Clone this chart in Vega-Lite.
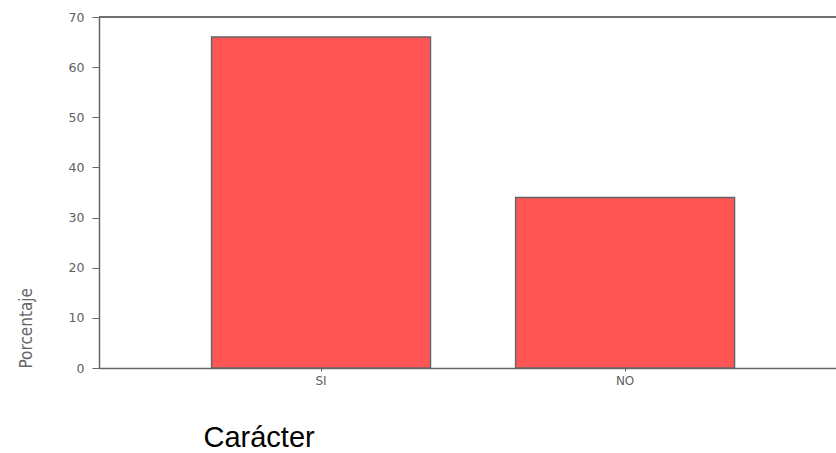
{
  "$schema": "https://vega.github.io/schema/vega-lite/v6.json",
  "width": 737,
  "height": 351,
  "padding": {"left": 99, "top": 17, "right": 0, "bottom": 85},
  "autosize": {"type": "none"},
  "background": "white",
  "config": {"view": {"stroke": null}},
  "data": {"values": [
    {"Caracter": "SI", "Porcentaje": 66},
    {"Caracter": "NO", "Porcentaje": 34}
  ]},
  "layer": [
    {
      "mark": {"type": "bar", "fill": "#FF5555", "stroke": "#666666", "strokeWidth": 1.5},
      "encoding": {
        "x": {
          "field": "Caracter", "type": "nominal", "sort": ["SI", "NO"],
          "scale": {"paddingInner": 0.28, "paddingOuter": 0.352, "align": 0.526},
          "axis": {
            "title": "Carácter", "labelAngle": 0, "labelFont": "DejaVu Sans", "labelFontSize": 12,
            "labelColor": "#606060", "labelPadding": 4, "tickSize": 3, "tickColor": "#666666",
            "domainColor": "#666666", "domainWidth": 1.5,
            "titleFont": "Liberation Sans", "titleFontSize": 29, "titleFontWeight": "normal",
            "titleColor": "#000000", "titleAnchor": "start", "titleAlign": "left",
            "titleX": 104, "titleY": 78, "titleBaseline": "alphabetic"
          }
        },
        "y": {
          "field": "Porcentaje", "type": "quantitative",
          "scale": {"domain": [0, 70], "nice": false},
          "axis": {
            "title": "Porcentaje", "values": [0, 10, 20, 30, 40, 50, 60, 70], "grid": false,
            "labelFont": "DejaVu Sans", "labelFontSize": 12.5, "labelColor": "#606060",
            "labelPadding": 8, "tickSize": 7, "tickColor": "#666666",
            "domainColor": "#666666", "domainWidth": 1.5,
            "titleFont": "DejaVu Sans Condensed, Liberation Sans, sans-serif", "titleFontSize": 17, "titleFontWeight": "normal",
            "titleColor": "#666666", "titleAngle": -90, "titleAnchor": "start", "titleAlign": "left",
            "titleX": -73, "titleY": 351, "titleBaseline": "middle"
          }
        }
      }
    },
    {
      "mark": {"type": "rule", "stroke": "#666666", "strokeWidth": 1.5},
      "encoding": {"y": {"datum": 70}}
    }
  ]
}
